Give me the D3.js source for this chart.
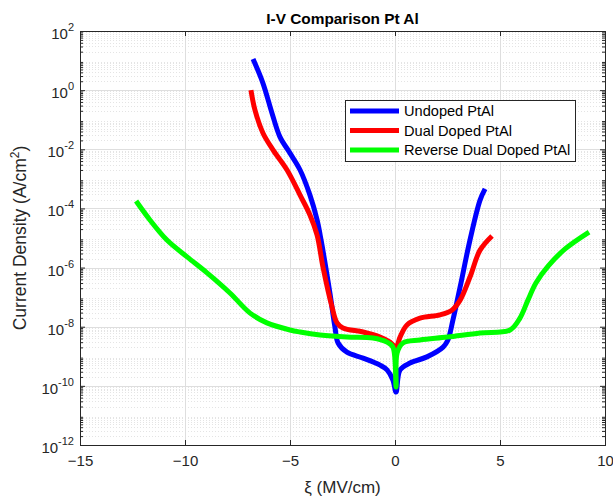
<!DOCTYPE html>
<html>
<head>
<meta charset="utf-8">
<script src="https://cdn.jsdelivr.net/npm/d3@7"></script>
<style>
  body { margin: 0; background: #fff; }
  text { font-family: "Liberation Sans", Arial, sans-serif; }
</style>
</head>
<body>
<script>
// series names
const seriesNames = ['Undoped PtAl', 'Dual Doped PtAl', 'Reverse Dual Doped PtAl'];
const seriesColors = ['#0000ff', '#ff0000', '#00ff00'];

// Undoped PtAl: field (MV/cm) and log10 of current density
const undopedX = [-6.76, -6.29, -5.86, -5.48, -5.00, -4.52, -4.05, -3.71, -3.52, -3.10, -2.86, -2.71, -2.29, -1.52, -0.71, -0.38, -0.10, 0.05, 0.24, 0.71, 1.52, 2.29, 2.52, 2.76, 3.10, 3.57, 4.05, 4.29];
const undopedLogJ = [1.05, 0.24, -0.77, -1.58, -2.13, -2.70, -3.55, -4.39, -5.07, -6.86, -8.01, -8.55, -8.86, -9.06, -9.30, -9.46, -9.80, -10.21, -9.46, -9.23, -9.02, -8.69, -8.45, -7.77, -6.66, -5.07, -3.72, -3.34];

// Dual Doped PtAl
const dualX = [-6.86, -6.67, -6.29, -5.81, -5.14, -4.52, -4.05, -3.71, -3.43, -3.00, -2.76, -2.48, -1.52, -0.71, -0.24, 0.05, 0.24, 0.57, 1.19, 2.14, 2.71, 3.10, 3.57, 4.05, 4.62];
const dualLogJ = [0.00, -0.67, -1.45, -2.02, -2.70, -3.55, -4.22, -4.90, -5.98, -7.33, -7.87, -8.04, -8.18, -8.35, -8.52, -8.69, -8.35, -7.94, -7.71, -7.60, -7.44, -7.10, -6.32, -5.41, -4.93];

// Reverse Dual Doped PtAl
const reverseX = [-12.33, -11.67, -10.86, -9.90, -8.95, -7.86, -6.90, -6.10, -5.00, -4.52, -3.57, -2.29, -1.05, -0.38, -0.10, 0.05, 0.10, 0.38, 1.19, 2.48, 4.05, 5.48, 5.95, 6.33, 6.71, 7.29, 8.10, 9.24];
const reverseLogJ = [-3.75, -4.39, -5.07, -5.64, -6.18, -6.86, -7.54, -7.87, -8.11, -8.18, -8.28, -8.35, -8.38, -8.52, -8.69, -10.04, -8.89, -8.55, -8.45, -8.35, -8.21, -8.11, -7.71, -7.10, -6.52, -5.95, -5.37, -4.80];

// axis ticks
const xTicks = [-15, -10, -5, 0, 5, 10];
const yExponents = [2, 0, -2, -4, -6, -8, -10, -12];

const width = 613, height = 500;
const margin = {top: 31, right: 8, bottom: 55, left: 80};

const svg = d3.select('body')
  .append('svg')
  .attr('width', width)
  .attr('height', height);

const xScale = d3.scaleLinear()
  .domain([-15, 10])
  .range([margin.left, width - margin.right]);

const yScale = d3.scaleLog()
  .domain([1e-12, 1e2])
  .range([height - margin.bottom, margin.top]);

const plotW = width - margin.right - margin.left;
const plotH = height - margin.bottom - margin.top;

// minor grid (dotted) for log axis
const minorVals = [];
for (let e = -12; e < 2; e++) {
  for (let m = 2; m <= 9; m++) minorVals.push(m * Math.pow(10, e));
}
svg.append('g')
  .selectAll('line')
  .data(minorVals)
  .join('line')
  .attr('x1', margin.left)
  .attr('x2', width - margin.right)
  .attr('y1', d => Math.round(yScale(d)) + 0.5)
  .attr('y2', d => Math.round(yScale(d)) + 0.5)
  .attr('stroke', '#e4e4e4')
  .attr('stroke-dasharray', '1,2');

// major grid
svg.append('g')
  .selectAll('line')
  .data(yExponents)
  .join('line')
  .attr('x1', margin.left)
  .attr('x2', width - margin.right)
  .attr('y1', d => Math.round(yScale(Math.pow(10, d))) + 0.5)
  .attr('y2', d => Math.round(yScale(Math.pow(10, d))) + 0.5)
  .attr('stroke', '#dedede');

svg.append('g')
  .selectAll('line')
  .data(xTicks)
  .join('line')
  .attr('x1', d => Math.round(xScale(d)) + 0.5)
  .attr('x2', d => Math.round(xScale(d)) + 0.5)
  .attr('y1', margin.top)
  .attr('y2', height - margin.bottom)
  .attr('stroke', '#dedede');

// axes
const xAxis = d3.axisBottom(xScale).tickValues(xTicks).tickSizeInner(-5).tickSizeOuter(0).tickPadding(10);
svg.append('g')
  .attr('transform', `translate(0, ${height - margin.bottom})`)
  .call(xAxis)
  .call(g => g.select('.domain').remove())
  .call(g => g.selectAll('line').attr('stroke', '#262626'))
  .call(g => g.selectAll('text').attr('fill', '#262626').style('font-size', '15px'));

const xAxisTop = d3.axisTop(xScale).tickValues(xTicks).tickSizeInner(-5).tickSizeOuter(0).tickFormat('');
svg.append('g')
  .attr('transform', `translate(0, ${margin.top})`)
  .call(xAxisTop)
  .call(g => g.select('.domain').remove())
  .call(g => g.selectAll('line').attr('stroke', '#262626'));

// y ticks (major + minor) on both sides
const yAxis = d3.axisLeft(yScale)
  .tickValues(yExponents.map(e => Math.pow(10, e)))
  .tickSizeInner(-5).tickSizeOuter(0).tickPadding(8)
  .tickFormat('');
svg.append('g')
  .attr('transform', `translate(${margin.left}, 0)`)
  .call(yAxis)
  .call(g => g.select('.domain').remove())
  .call(g => g.selectAll('line').attr('stroke', '#262626'));

const yAxisMinor = d3.axisLeft(yScale).tickValues(minorVals).tickSizeInner(-3).tickSizeOuter(0).tickFormat('');
svg.append('g')
  .attr('transform', `translate(${margin.left}, 0)`)
  .call(yAxisMinor)
  .call(g => g.select('.domain').remove())
  .call(g => g.selectAll('line').attr('stroke', '#262626'));

const yAxisRight = d3.axisRight(yScale).tickValues(yExponents.map(e => Math.pow(10, e))).tickSizeInner(-5).tickSizeOuter(0).tickFormat('');
svg.append('g')
  .attr('transform', `translate(${width - margin.right}, 0)`)
  .call(yAxisRight)
  .call(g => g.select('.domain').remove())
  .call(g => g.selectAll('line').attr('stroke', '#262626'));

const yAxisRightMinor = d3.axisRight(yScale).tickValues(minorVals).tickSizeInner(-3).tickSizeOuter(0).tickFormat('');
svg.append('g')
  .attr('transform', `translate(${width - margin.right}, 0)`)
  .call(yAxisRightMinor)
  .call(g => g.select('.domain').remove())
  .call(g => g.selectAll('line').attr('stroke', '#262626'));

// y tick labels 10^n
const yLabels = svg.append('g')
  .selectAll('text')
  .data(yExponents)
  .join('text')
  .attr('x', margin.left - 6)
  .attr('y', d => yScale(Math.pow(10, d)) + 8)
  .attr('text-anchor', 'end')
  .attr('fill', '#262626')
  .style('font-size', '15px');
yLabels.append('tspan').text('10');
yLabels.append('tspan')
  .attr('dy', -8)
  .style('font-size', '11px')
  .text(d => d);

// frame
svg.append('rect')
  .attr('x', margin.left + 0.5)
  .attr('y', margin.top + 0.5)
  .attr('width', plotW)
  .attr('height', plotH)
  .attr('fill', 'none')
  .attr('stroke', '#262626');

// lines
const series = [
  {name: seriesNames[0], color: seriesColors[0], xs: undopedX, ys: undopedLogJ},
  {name: seriesNames[1], color: seriesColors[1], xs: dualX, ys: dualLogJ},
  {name: seriesNames[2], color: seriesColors[2], xs: reverseX, ys: reverseLogJ}
];

const line = d3.line()
  .x(d => xScale(d[0]))
  .y(d => yScale(Math.pow(10, d[1])))
  .curve(d3.curveCatmullRom.alpha(0.5));

svg.append('g')
  .selectAll('path')
  .data(series)
  .join('path')
  .attr('d', s => line(s.xs.map((x, i) => [x, s.ys[i]])))
  .attr('fill', 'none')
  .attr('stroke', s => s.color)
  .attr('stroke-width', 5)
  .attr('stroke-linejoin', 'round');

// legend
const legend = svg.append('g').attr('transform', 'translate(345, 100)');
legend.append('rect')
  .attr('x', 0.5)
  .attr('y', 0.5)
  .attr('width', 230)
  .attr('height', 61)
  .attr('fill', '#fff')
  .attr('stroke', '#262626');
series.forEach((s, i) => {
  legend.append('line')
    .attr('x1', 5).attr('x2', 54)
    .attr('y1', 11 + i * 19.5).attr('y2', 11 + i * 19.5)
    .attr('stroke', s.color)
    .attr('stroke-width', 5);
  legend.append('text')
    .attr('x', 59)
    .attr('y', 16 + i * 19.5)
    .attr('fill', '#000')
    .style('font-size', '14.6px')
    .text(s.name);
});

// title
svg.append('text')
  .attr('x', margin.left + plotW / 2)
  .attr('y', 24)
  .attr('text-anchor', 'middle')
  .style('font-size', '15.4px')
  .style('font-weight', 'bold')
  .text('I-V Comparison Pt Al');

// x label
svg.append('text')
  .attr('x', margin.left + plotW / 2)
  .attr('y', 493)
  .attr('text-anchor', 'middle')
  .attr('fill', '#262626')
  .style('font-size', '17px')
  .text('ξ (MV/cm)');

// y label
const yl = svg.append('text')
  .attr('transform', `translate(26, ${margin.top + plotH / 2}) rotate(-90)`)
  .attr('text-anchor', 'middle')
  .attr('fill', '#262626')
  .style('font-size', '17.5px');
yl.append('tspan').text('Current Density (A/cm');
yl.append('tspan').attr('dy', -7).style('font-size', '12px').text('2');
yl.append('tspan').attr('dy', 7).text(')');
</script>
</body>
</html>
